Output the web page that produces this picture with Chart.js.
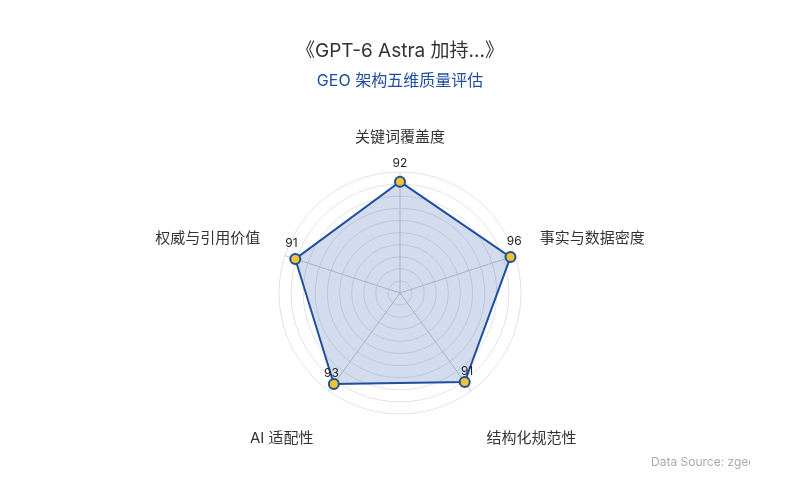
<!DOCTYPE html>
<html>
<head>
<meta charset="utf-8">
<script src="https://cdn.jsdelivr.net/npm/chart.js@4/dist/chart.umd.min.js"></script>
<style>
    html, body { margin: 0; padding: 0; background: #fff; }
    #wrap { width: 800px; height: 500px; }
</style>
</head>
<body>
<div id="wrap"><canvas id="radarChart"></canvas></div>
<script>
// 軸ラベル・値
const dimensions = ['关键词覆盖度', '事实与数据密度', '结构化规范性', 'AI 适配性', '权威与引用价值'];
const scores = [92, 96, 91, 93, 91];
const scaleTicks = [0, 10, 20, 30, 40, 50, 60, 70, 80, 90, 100];

const chartTitle = '《GPT-6 Astra 加持...》';
const chartSubtitle = 'GEO 架构五维质量评估';
const sourceNote = 'Data Source: zgeo.ai';

const fontFamily = 'Inter, "Noto Sans CJK SC", sans-serif';
const blue = '#1f4e9e';

// 下側のラベルは一行分下げる
const labelLines = dimensions.map((d, i) => (i === 2 || i === 3) ? ['', d] : d);

// 値ラベル
const valueLabels = {
    id: 'valueLabels',
    afterDatasetsDraw(chart) {
        const ctx = chart.ctx;
        const scale = chart.scales.r;
        const meta = chart.getDatasetMeta(0);
        ctx.save();
        ctx.font = '12px ' + fontFamily;
        ctx.fillStyle = '#222';
        ctx.textAlign = 'center';
        ctx.textBaseline = 'middle';
        meta.data.forEach((pt, i) => {
            const dx = pt.x - scale.xCenter;
            const dy = pt.y - scale.yCenter;
            const len = Math.sqrt(dx * dx + dy * dy) || 1;
            ctx.fillText(scores[i], pt.x + dx / len * 4, pt.y + dy / len * 4 - 14);
        });
        ctx.restore();
    }
};

// 出典
const sourceText = {
    id: 'sourceText',
    afterDraw(chart) {
        const ctx = chart.ctx;
        ctx.save();
        ctx.beginPath();
        ctx.rect(0, 0, 750, 500);
        ctx.clip();
        ctx.font = '12px ' + fontFamily;
        ctx.fillStyle = '#aaaaaa';
        ctx.textAlign = 'left';
        ctx.textBaseline = 'middle';
        ctx.fillText(sourceNote, 651, 462);
        ctx.restore();
    }
};

new Chart(document.getElementById('radarChart'), {
    type: 'radar',
    data: {
        labels: labelLines,
        datasets: [{
            label: chartSubtitle,
            data: scores,
            borderColor: blue,
            backgroundColor: 'rgba(31, 78, 158, 0.2)',
            borderWidth: 2,
            pointBackgroundColor: '#f2c230',
            pointBorderColor: blue,
            pointBorderWidth: 2,
            pointRadius: 5,
            pointHoverRadius: 5,
        }]
    },
    options: {
        responsive: true,
        maintainAspectRatio: false,
        animation: false,
        layout: {
            padding: { top: 40, bottom: 47, left: 20, right: 20 }
        },
        scales: {
            r: {
                min: scaleTicks[0],
                max: scaleTicks[scaleTicks.length - 1],
                beginAtZero: true,
                ticks: { stepSize: 10, display: false },
                grid: { circular: true, color: '#e3e3e8' },
                angleLines: { color: '#c5cad6' },
                pointLabels: {
                    padding: 26,
                    color: '#333',
                    font: { size: 15, family: fontFamily }
                }
            }
        },
        plugins: {
            legend: { display: false },
            tooltip: { enabled: false },
            title: {
                display: true,
                text: chartTitle,
                color: '#333',
                font: { size: 19, weight: 'normal', family: fontFamily },
                padding: { top: 0, bottom: 9 }
            },
            subtitle: {
                display: true,
                text: chartSubtitle,
                color: blue,
                font: { size: 16, family: fontFamily },
                padding: { top: 0, bottom: 31 }
            }
        }
    },
    plugins: [valueLabels, sourceText]
});
</script>
</body>
</html>
